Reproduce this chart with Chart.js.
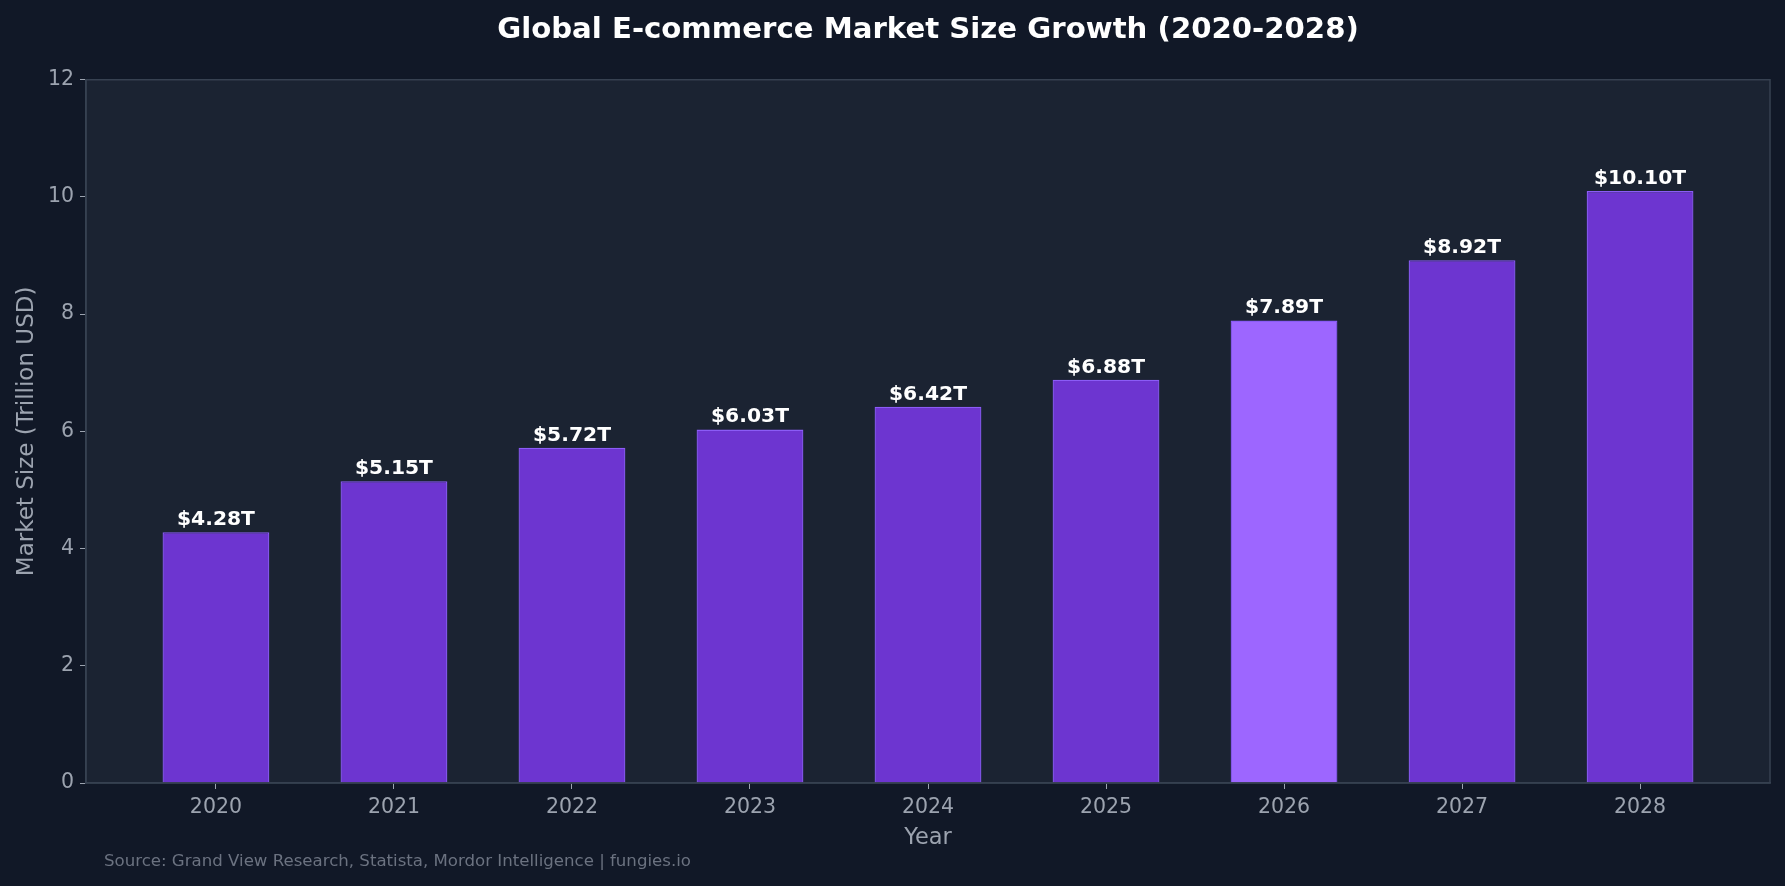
<!DOCTYPE html>
<html>
<head>
<meta charset="utf-8">
<script src="https://cdn.jsdelivr.net/npm/chart.js@4.4.1/dist/chart.umd.min.js"></script>
<style>
  html,body{margin:0;padding:0;background:#111827;}
  #chart{display:block;}
</style>
</head>
<body>
<canvas id="chart" width="1785" height="886"></canvas>
<script>
const years=["2020","2021","2022","2023","2024","2025","2026","2027","2028"];
const marketSize=[4.28,5.15,5.72,6.03,6.42,6.88,7.89,8.92,10.10];
const yTicks=[0,2,4,6,8,10,12];
const highlightYear="2026";

const FONT="'DejaVu Sans', sans-serif";
const barColors=years.map(y=>y===highlightYear?"#9d66ff":"#6d35d0");

const chartLook={
  id:"chartLook",
  beforeDraw(chart){
    const {ctx,chartArea:a}=chart;
    ctx.save();
    ctx.fillStyle="#111827";
    ctx.fillRect(0,0,chart.width,chart.height);
    ctx.fillStyle="#1b2332";
    ctx.fillRect(a.left,a.top,a.right-a.left,a.bottom-a.top);
    ctx.restore();
  },
  afterDatasetsDraw(chart){
    const {ctx,chartArea:a,scales}=chart;
    ctx.save();
    ctx.strokeStyle="#374151";
    ctx.lineWidth=1.5;
    ctx.strokeRect(a.left,a.top,a.right-a.left,a.bottom-a.top);
    // value labels
    ctx.fillStyle="#ffffff";
    ctx.font="bold 20.3px "+FONT;
    ctx.textAlign="center";
    ctx.textBaseline="bottom";
    marketSize.forEach((v,i)=>{
      const x=scales.x.getPixelForValue(i);
      const y=scales.y.getPixelForValue(v+0.04);
      ctx.fillText("$"+v.toFixed(2)+"T",x,y);
    });
    ctx.restore();
  },
  afterDraw(chart){
    const {ctx}=chart;
    ctx.save();
    ctx.fillStyle="#6b7280";
    ctx.font="16.6px "+FONT;
    ctx.textAlign="left";
    ctx.textBaseline="middle";
    ctx.fillText("Source: Grand View Research, Statista, Mordor Intelligence | fungies.io",104,862);
    ctx.restore();
  }
};

new Chart(document.getElementById("chart"),{
  type:"bar",
  data:{
    datasets:[{
      data:marketSize.map((v,i)=>({x:i,y:v})),
      backgroundColor:barColors,
      borderColor:"#8b5cf6",
      borderWidth:1.3,
      categoryPercentage:1,
      barPercentage:0.6
    }]
  },
  options:{
    responsive:false,
    animation:false,
    layout:{padding:{left:0,right:15,top:0,bottom:0}},
    plugins:{
      legend:{display:false},
      tooltip:{enabled:false},
      title:{
        display:true,
        fullSize:false,
        text:"Global E-commerce Market Size Growth (2020-2028)",
        color:"#ffffff",
        font:{family:FONT,size:29.2,weight:"bold",lineHeight:1.2},
        padding:{top:12.7,bottom:32}
      }
    },
    scales:{
      x:{
        type:"linear",
        min:-0.73,
        max:8.73,
        offset:false,
        afterBuildTicks(scale){scale.ticks=years.map((y,i)=>({value:i}));},
        afterFit(scale){scale.height=103;},
        ticks:{
          color:"#9ca3af",
          font:{family:FONT,size:20.5},
          padding:6,
          callback:(v)=>years[v]
        },
        grid:{offset:false,drawOnChartArea:false,drawTicks:true,tickLength:6,tickColor:"#9ca3af",color:"#9ca3af"},
        border:{color:"#374151",width:1.5},
        title:{display:true,text:"Year",color:"#9ca3af",font:{family:FONT,size:22.5},padding:{top:0,bottom:34}}
      },
      y:{
        min:0,
        max:12,
        afterBuildTicks(scale){scale.ticks=yTicks.map(v=>({value:v}));},
        afterFit(scale){scale.width=86;},
        ticks:{
          color:"#9ca3af",
          font:{family:FONT,size:20.5},
          padding:6
        },
        grid:{drawOnChartArea:false,drawTicks:true,tickLength:6,tickColor:"#9ca3af",color:"#9ca3af"},
        border:{color:"#374151",width:1.5},
        title:{display:true,text:"Market Size (Trillion USD)",color:"#9ca3af",font:{family:FONT,size:23},padding:{top:13,bottom:0}}
      }
    }
  },
  plugins:[chartLook]
});
</script>
</body>
</html>
